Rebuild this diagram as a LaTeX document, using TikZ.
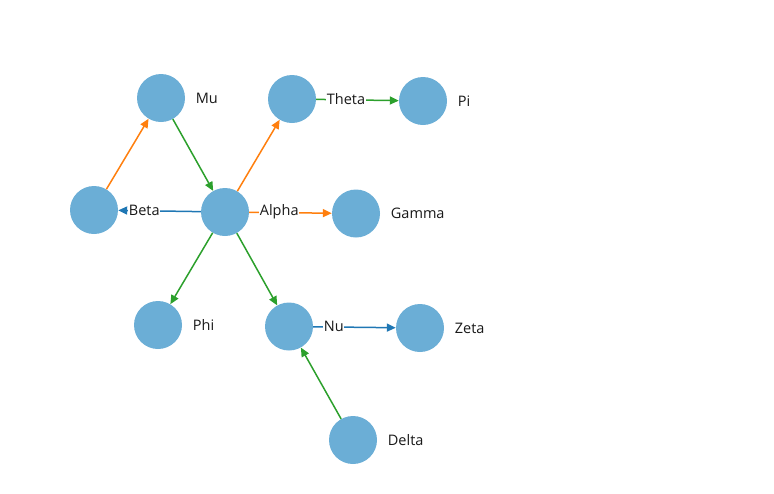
\documentclass[tikz,border=0pt]{standalone}
\usepackage{fontspec}
\setmainfont{Open Sans}
\usepackage{tikz}
\usetikzlibrary{positioning,arrows.meta}
\definecolor{nodeblue}{HTML}{6BAED6}
\definecolor{edgeorange}{HTML}{FF7F0E}
\definecolor{edgegreen}{HTML}{2CA02C}
\definecolor{edgeblue}{HTML}{1F77B4}

\begin{document}
\begin{tikzpicture}[
            x=1pt, y=-1pt,
            node distance=10pt,
            % Style for the round vertices
            vertex/.style={
                circle,
                fill=nodeblue,
                minimum size=48pt,
                inner sep=0pt
            },
            % Style for the names beside the vertices
            lbl/.style={
                fill=white,
                inner sep=0.5pt,
                text=black!90,
                font=\fontsize{14.5}{16}\selectfont
            },
            % Style for the arrows
            link/.style={
                line width=1.5pt,
                -{Triangle[length=9pt,width=8pt]}
            }
        ]
            \useasboundingbox (0,0) rectangle (774,493);

            % VERTICES
            \node[vertex] (mu) at (161,98) {};
            \node[vertex] (theta) at (292,99) {};
            \node[vertex] (pi) at (423,101) {};
            \node[vertex] (beta) at (94,210) {};
            \node[vertex] (alpha) at (225,212) {};
            \node[vertex] (gamma) at (356,213.5) {};
            \node[vertex] (phi) at (158,325) {};
            \node[vertex] (nu) at (289,326.5) {};
            \node[vertex] (zeta) at (420,328) {};
            \node[vertex] (delta) at (353,440) {};

            % ARROWS
            \draw[link, edgeorange] (beta) -- (mu);
            \draw[link, edgegreen] (mu) -- (alpha);
            \draw[link, edgeorange] (alpha) -- (theta);
            \draw[link, edgegreen] (theta) -- (pi);
            \draw[link, edgeblue] (alpha) -- (beta);
            \draw[link, edgeorange] (alpha) -- (gamma);
            \draw[link, edgegreen] (alpha) -- (phi);
            \draw[link, edgegreen] (alpha) -- (nu);
            \draw[link, edgeblue] (nu) -- (zeta);
            \draw[link, edgegreen] (delta) -- (nu);

            % NAMES
            \node[lbl, right=of mu] (mu-l) {Mu};
            \node[lbl, right=of theta] (theta-l) {Theta};
            \node[lbl, right=of pi] (pi-l) {Pi};
            \node[lbl, right=of beta] (beta-l) {Beta};
            \node[lbl, right=of alpha] (alpha-l) {Alpha};
            \node[lbl, right=of gamma] (gamma-l) {Gamma};
            \node[lbl, right=of phi] (phi-l) {Phi};
            \node[lbl, right=of nu] (nu-l) {Nu};
            \node[lbl, right=of zeta] (zeta-l) {Zeta};
            \node[lbl, right=of delta] (delta-l) {Delta};
        \end{tikzpicture}
\end{document}
